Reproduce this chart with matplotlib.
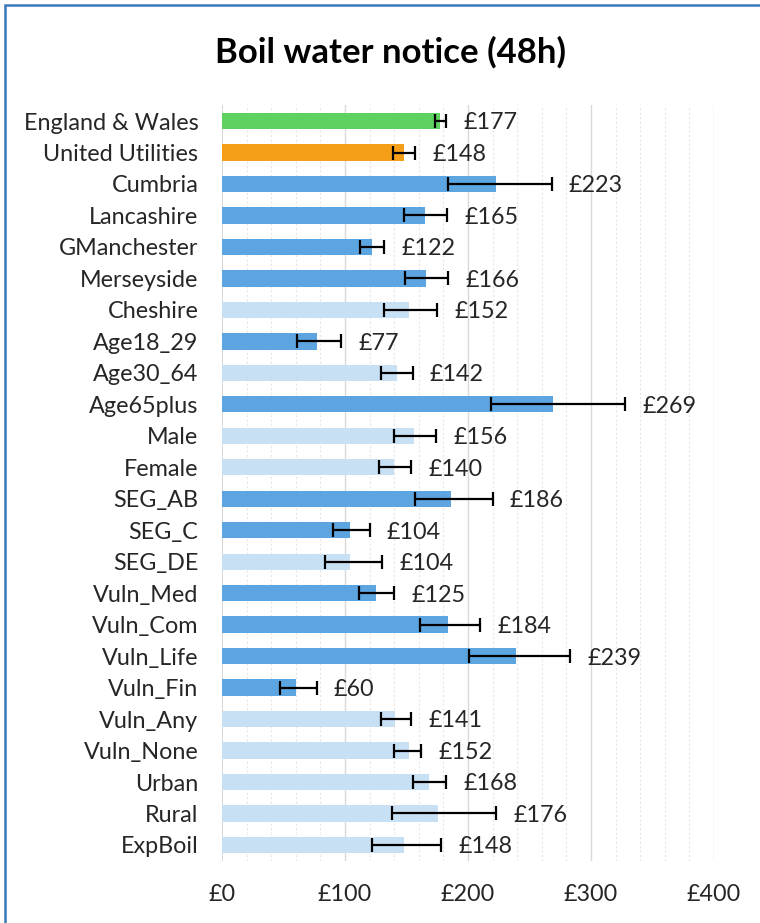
import numpy as np
import matplotlib
matplotlib.use("Agg")
import matplotlib.pyplot as plt
from matplotlib.patches import Rectangle

# ---------------------------------------------------------
# Data
# ---------------------------------------------------------
categories = ["England & Wales", "United Utilities", "Cumbria", "Lancashire",
              "GManchester", "Merseyside", "Cheshire", "Age18_29", "Age30_64",
              "Age65plus", "Male", "Female", "SEG_AB", "SEG_C", "SEG_DE",
              "Vuln_Med", "Vuln_Com", "Vuln_Life", "Vuln_Fin", "Vuln_Any",
              "Vuln_None", "Urban", "Rural", "ExpBoil"]
values = [177, 148, 223, 165, 122, 166, 152, 77, 142, 269, 156, 140,
          186, 104, 104, 125, 184, 239, 60, 141, 152, 168, 176, 148]
ci_low = [173, 139, 184, 148, 112, 149, 132, 61, 129, 219, 140, 128,
          157, 90, 84, 111, 161, 201, 47, 129, 140, 155, 138, 122]
ci_high = [182, 157, 268, 183, 132, 184, 175, 97, 155, 328, 174, 154,
           220, 120, 130, 140, 210, 283, 77, 154, 162, 182, 223, 178]
# group: "ew" national, "uu" company, "sig" differs from UU, "ns" does not
groups = ["ew", "uu", "sig", "sig", "sig", "sig", "ns", "sig", "ns", "sig",
          "ns", "ns", "sig", "sig", "ns", "sig", "sig", "sig", "sig", "ns",
          "ns", "ns", "ns", "ns"]
x_ticks = [0, 100, 200, 300, 400]
x_ticklabels = ["£0", "£100", "£200", "£300", "£400"]

palette = {"ew": "#5fd160", "uu": "#f59e17", "sig": "#5da5e0", "ns": "#c8e0f4"}

plt.rcParams["font.family"] = ["Lato", "DejaVu Sans"]
fs = 16.8

fig = plt.figure(figsize=(7.6, 9.23), dpi=100)
ax = fig.add_axes([222 / 760, 1 - 860.7 / 923, (714 - 222) / 760, (860.7 - 105.3) / 923])

y = np.arange(len(categories))
vals = np.array(values)
err = np.array([vals - np.array(ci_low), np.array(ci_high) - vals])

# grid: minor every 20, major every 100
for gx in range(20, 420, 20):
    if gx % 100 == 0:
        ax.axvline(gx, color="#d9d9d9", lw=1.0, zorder=0)
    else:
        ax.axvline(gx, color="#e6e6e6", lw=0.8, ls=(0, (2, 2)), zorder=0)
ax.axvline(0, color="#d0d0d0", lw=1.2, zorder=0)

ax.barh(y, vals, height=0.52, color=[palette[g] for g in groups], zorder=2)
ax.errorbar(vals, y, xerr=err, fmt="none", ecolor="black", elinewidth=1.6,
            capsize=5, capthick=1.6, zorder=3)

for yi, hi, v in zip(y, ci_high, values):
    ax.text(hi + 14, yi + 0.06, f"£{v}", va="center", ha="left", fontsize=fs,
            color="#262626")

ax.set_xlim(0, 400)
ax.set_ylim(len(categories) - 0.5, -0.5)
ax.set_yticks(y)
ax.set_yticklabels(categories, fontsize=fs, color="#262626")
ax.set_xticks(x_ticks)
ax.set_xticklabels(x_ticklabels, fontsize=fs, color="#262626")
ax.tick_params(axis="both", length=0)
ax.tick_params(axis="y", pad=17)
ax.tick_params(axis="x", pad=17)
for s in ax.spines.values():
    s.set_visible(False)

fig.text(390 / 760, 1 - 52 / 923, "Boil water notice (48h)", ha="center",
         va="center", fontsize=25, fontweight="bold", color="black")

# chart border as in the original screenshot
fig.patches.append(Rectangle((5 / 760, -0.1), 1.2, 1.1 - 5 / 923,
                             transform=fig.transFigure, fill=False,
                             edgecolor="#3a78b8", lw=1.8))

fig.savefig("out.png", dpi=100)
